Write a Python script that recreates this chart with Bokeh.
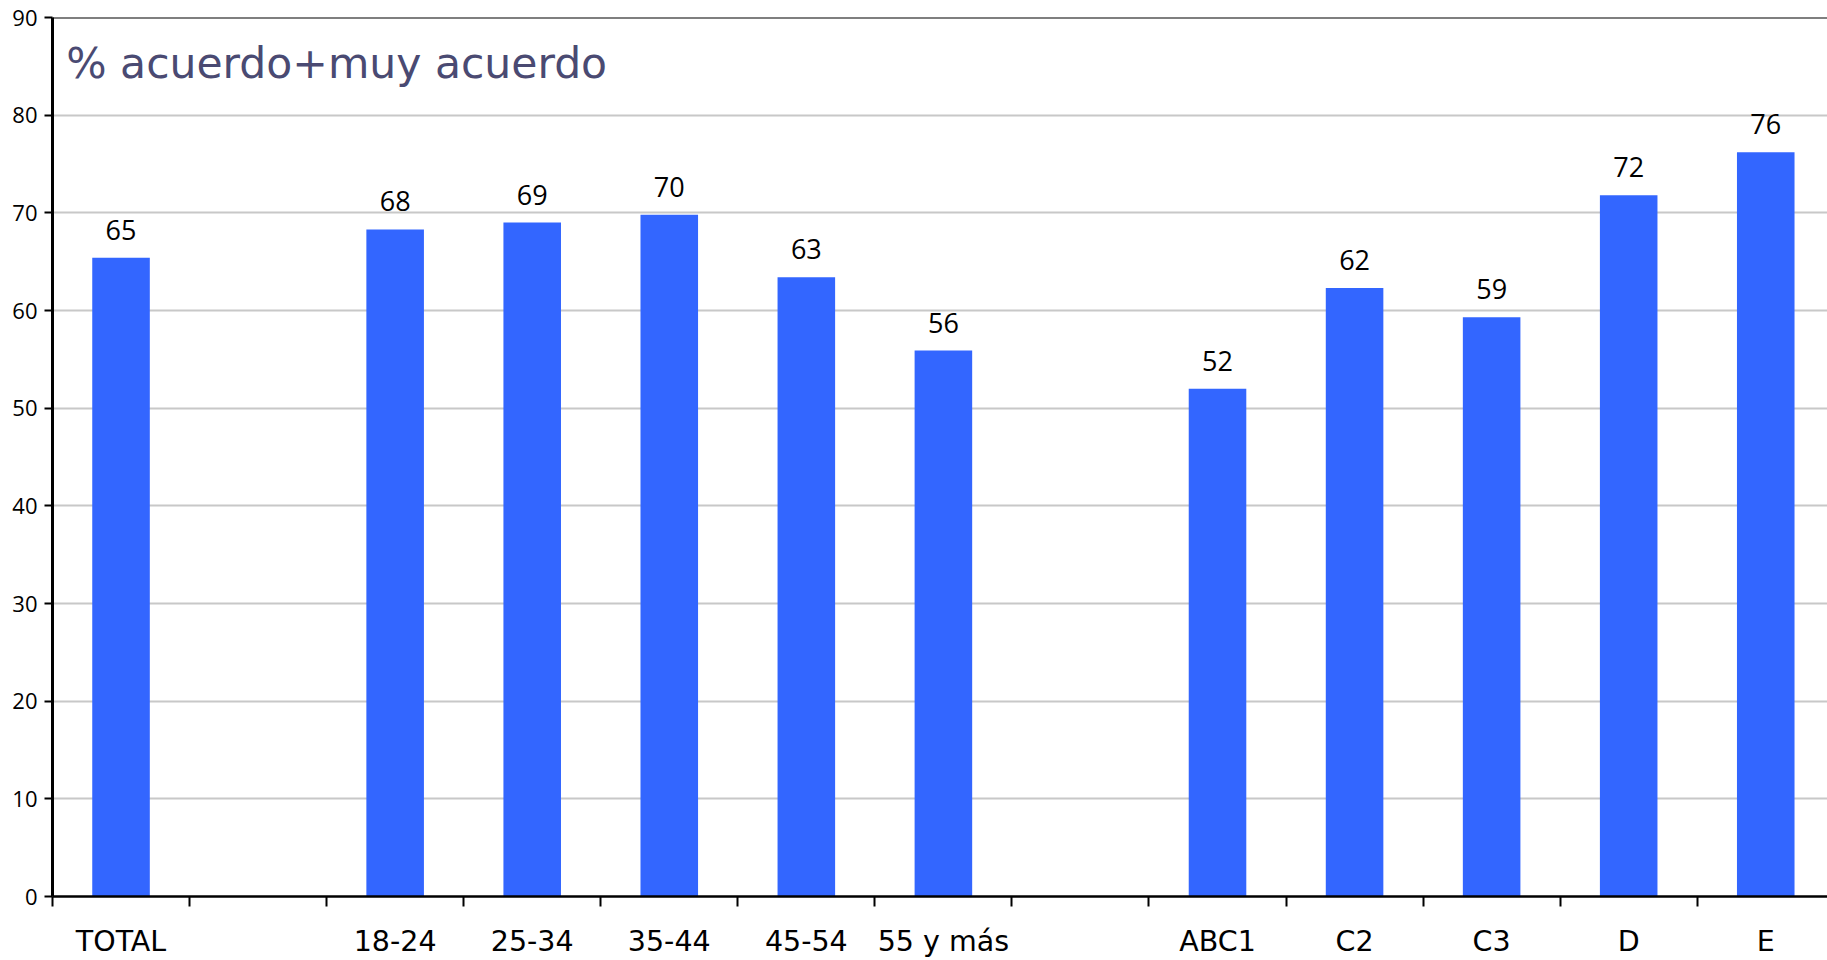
from bokeh.plotting import figure
from bokeh.models import Range1d, FixedTicker, Span, Label, ColumnDataSource
from bokeh.core.properties import value
from bokeh.embed import file_html
from bokeh.resources import INLINE

# ---- data ----
categories = ["TOTAL", "", "18-24", "25-34", "35-44", "45-54", "55 y más",
              "", "ABC1", "C2", "C3", "D", "E"]
values = [65.4, None, 68.3, 69.0, 69.8, 63.4, 55.9,
          None, 52.0, 62.3, 59.3, 71.8, 76.2]
title_text = "% acuerdo+muy acuerdo"
y_ticks = [0, 10, 20, 30, 40, 50, 60, 70, 80, 90]

# ---- layout ----
W, H = 1827, 960
LEFT, TOP, BOTTOM = 52, 17, 62
CAT_PX = 137.06
x_end = (W - LEFT) / CAT_PX

centers = [i + 0.5 for i in range(len(categories))]
boundaries = [i for i in range(len(categories) + 1)]
xs = [c for c, v in zip(centers, values) if v is not None]
tops = [v for v in values if v is not None]
labels = [str(int(round(v))) for v in tops]

src = ColumnDataSource(dict(x=xs, top=tops, label=labels))

p = figure(width=W, height=H, x_range=Range1d(0, x_end), y_range=Range1d(0, 90),
           output_backend="svg", toolbar_location=None,
           min_border_left=LEFT, min_border_top=TOP, min_border_bottom=BOTTOM,
           min_border_right=0)
p.outline_line_color = None
p.background_fill_color = "white"
p.border_fill_color = "white"

# x axis
xa = p.xaxis[0]
xa.ticker = FixedTicker(ticks=centers, minor_ticks=boundaries)
xa.major_label_overrides = {c: name for c, name in zip(centers, categories)}
xa.major_tick_line_color = None
xa.major_tick_out = 10
xa.major_tick_in = 0
xa.minor_tick_line_color = "black"
xa.minor_tick_line_width = 2
xa.minor_tick_out = 10
xa.minor_tick_in = 0
xa.axis_line_color = "black"
xa.axis_line_width = 2.5
xa.major_label_text_font = "DejaVu Sans"
xa.major_label_text_font_size = "28.5px"
xa.major_label_text_color = "black"
xa.major_label_standoff = 18

# y axis
ya = p.yaxis[0]
ya.ticker = FixedTicker(ticks=y_ticks, minor_ticks=[])
ya.major_tick_line_color = "black"
ya.major_tick_line_width = 2
ya.major_tick_out = 8
ya.major_tick_in = 0
ya.minor_tick_line_color = None
ya.axis_line_color = "black"
ya.axis_line_width = 3
ya.major_label_text_font = "Open Sans"
ya.major_label_text_font_size = "22px"
ya.major_label_text_color = "black"
ya.major_label_standoff = 7

# grid
p.xgrid.visible = False
p.ygrid.ticker = FixedTicker(ticks=y_ticks[1:-1], minor_ticks=[])
p.ygrid.grid_line_color = "#c8c8c8"
p.ygrid.grid_line_width = 2

p.add_layout(Span(location=y_ticks[-1], dimension="width", line_color="black", line_width=2))

# bars
p.vbar(x="x", top="top", bottom=0, width=0.42, source=src,
       fill_color="#3366ff", line_color=None)

# value labels
p.text(x="x", y="top", text="label", source=src, text_align="center",
       text_baseline="alphabetic", y_offset=-28,
       text_font=value("Open Sans"), text_font_size="27px", text_color="black")

# title
p.add_layout(Label(x=0.1, y=85.3, text=title_text, text_font="DejaVu Sans",
                   text_font_size="42.5px", text_color="#4a4a72",
                   text_baseline="alphabetic"))

open("out.html", "w").write(file_html(p, INLINE))
